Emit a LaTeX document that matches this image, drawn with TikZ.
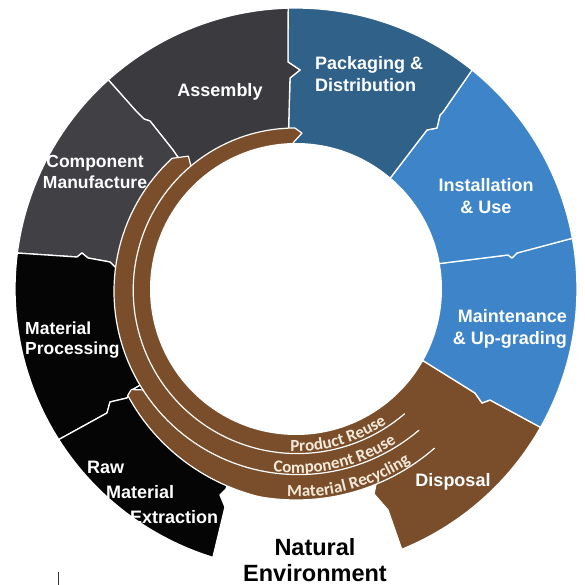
\documentclass[tikz,border=0pt]{standalone}
\usepackage{fontspec}
\setmainfont{Liberation Sans}
\newfontfamily\arcfont{Carlito}
\usepackage{tikz}
\usetikzlibrary{calc,decorations.text}
\definecolor{asmgray}{HTML}{3A3A3F}
\definecolor{cmgray}{HTML}{404045}
\definecolor{rawblack}{HTML}{050505}
\definecolor{packblue}{HTML}{2F6189}
\definecolor{useblue}{HTML}{3D85C8}
\definecolor{loopbrown}{HTML}{7B4E2B}
\definecolor{arccream}{HTML}{F3E9D8}
\newcommand{\arclbl}{\arcfont\bfseries\fontsize{17}{18}\selectfont}
\tikzset{%
	seg/.style      = {draw=white, line width=1.3pt, line join=round},
	band/.style     = {fill=loopbrown},
	seam/.style     = {draw=white, line width=1.2pt, line cap=round, line join=round},
	seglabel/.style = {text=white, inner sep=0pt, font=\bfseries\fontsize{18}{22}\selectfont},
	envlabel/.style = {text=black, inner sep=0pt, font=\bfseries\fontsize{23.5}{26}\selectfont, align=center},
}
\begin{document}
\begin{tikzpicture}[x=1pt,y=1pt,declare function={eone(\x)=161+0.02*(\x-90); etwo(\x)=180+0.04*(\x-130); ethree(\x)=min(211,199+0.25*(\x-212));}]
	\useasboundingbox (-296,-296) rectangle (288,289);

	% outer ring, clockwise from disposal
	\filldraw[seg,fill=loopbrown] (-66:140) -- (80,-195) -- (78,-205) -- (92,-221) -- (-67.9:281) arc[start angle=-67.9,end angle=-29.5,radius=281] -- (194,-111) -- (186,-114) -- (179,-104) -- (126,-71) -- cycle;
	\filldraw[seg,fill=useblue] (126,-71) -- (179,-104) -- (186,-114) -- (194,-111) -- (-29.5:281) arc[start angle=-29.5,end angle=10.4,radius=281] -- (221,36) -- (216,31) -- (212,34) -- (140,25) -- cycle;
	\filldraw[seg,fill=useblue] (140,25) -- (212,34) -- (216,31) -- (221,36) -- (10.4:281) arc[start angle=10.4,end angle=51.2,radius=281] -- (147,177) -- (144,174) -- (141,161) -- (131,159) -- (92,108) -- cycle;
	\filldraw[seg,fill=packblue] (92,108) -- (131,159) -- (141,161) -- (144,174) -- (147,177) -- (51.2:281) arc[start angle=51.2,end angle=91.6,radius=281] -- (-8,227) -- (4,219) -- (-6,211) -- (-8,140) -- cycle;
	\filldraw[seg,fill=asmgray] (-8,140) -- (-6,211) -- (4,219) -- (-8,227) -- (91.6:281) arc[start angle=91.6,end angle=131.9,radius=281] -- (-160,178) -- (-152,170) -- (-146,168) -- (-123,139) -- (-100,105) -- cycle;
	\filldraw[seg,fill=cmgray] (-100,105) -- (-123,139) -- (-146,168) -- (-152,170) -- (-160,178) -- (131.9:281) arc[start angle=131.9,end angle=172.65,radius=281] -- (-219,32) -- (-214,36) -- (-208,31) -- (-186,27) -- (-181,22) -- (-140,18) -- cycle;
	\filldraw[seg,fill=rawblack] (-140,18) -- (-181,22) -- (-186,27) -- (-208,31) -- (-214,36) -- (-219,32) -- (172.65:281) arc[start angle=172.65,end angle=212.4,radius=281] -- (-189,-124) -- (-186,-113) -- (-169,-109) -- (-164,-101) -- (-125,-78) -- cycle;
	\filldraw[seg,fill=rawblack] (-125,-78) -- (-164,-101) -- (-169,-109) -- (-186,-113) -- (-189,-124) -- (212.4:281) arc[start angle=212.4,end angle=252.8,radius=281] -- (-71,-218) -- (-76,-206) -- (-70,-200) -- (-50,-135) -- cycle;

	% the three return loops
	\fill[band] plot[domain=212.3:312,samples=60] (\x:{ethree(\x)}) -- (312:140) arc[start angle=312,end angle=213.4,radius=140] -- (213.4:{etwo(213.4)}) -- (211.4:193) -- cycle;
	\fill[band] plot[domain=133.5:312,samples=80] (\x:{etwo(\x)}) -- (312:140) arc[start angle=312,end angle=130.5,radius=140] -- (130.5:{eone(130.5)}) -- (129:171) -- cycle;
	\fill[band] plot[domain=90.4:312,samples=90] (\x:{eone(\x)}) -- (312:140) arc[start angle=312,end angle=91.2,radius=140] -- (91.2:146) -- (87.8:156) -- cycle;
	\fill[white] (0,0) circle[radius=146];

	\draw[seam] (91.2:146) -- (87.8:156) -- plot[domain=90.4:311,samples=90] (\x:{eone(\x)});
	\draw[seam] (130.5:{eone(130.5)}) -- (129:171) -- plot[domain=133.5:311,samples=80] (\x:{etwo(\x)});
	\draw[seam] (213.4:{etwo(213.4)}) -- (211.4:193) -- plot[domain=212.3:311,samples=60] (\x:{ethree(\x)});

	\path[decorate,decoration={text along path,text={|\arclbl|Product Reuse},text align=center,text color=arccream}] (250:162.5) arc[start angle=250,end angle=322,radius=162.5];
	\path[decorate,decoration={text along path,text={|\arclbl|Component Reuse},text align=center,text color=arccream}] (247:184) arc[start angle=247,end angle=319,radius=184];
	\path[decorate,decoration={text along path,text={|\arclbl|Material Recycling},text align=center,text color=arccream}] (249.5:208) arc[start angle=249.5,end angle=321.5,radius=208];

	\node[seglabel] (assembly) at (-76,197) {Assembly};
	\node[seglabel,anchor=west,align=left] (packaging) at (19,214.5) {Packaging \&\\Distribution};
	\node[seglabel,align=center] (installation) at (190,93) {Installation\\\& Use};
	\node[seglabel,anchor=east,align=right] (maintenance) at (271,-40) {Maintenance\\\& Up-grading};
	\node[seglabel] (disposal) at (157,-193) {Disposal};
	\node[seglabel,align=center,font=\bfseries\fontsize{17.5}{20.5}\selectfont] (component) at (-201,117) {Component\\Manufacture};
	\node[seglabel,anchor=west,align=left,font=\bfseries\fontsize{17.5}{20.5}\selectfont] (processing) at (-271,-51) {Material\\Processing};
	\node[seglabel,anchor=west] (raw) at (-209,-178) {Raw};
	\node[seglabel,anchor=west] (rawmaterial) at (-190,-203) {Material};
	\node[seglabel,anchor=west] (extraction) at (-166,-228) {Extraction};
	\node[envlabel] (natural) at (19,-271) {Natural\\Environment};

	\draw[black!80,line width=0.9pt] (-238,-283) -- (-238,-296); % stray tick
\end{tikzpicture}
\end{document}
